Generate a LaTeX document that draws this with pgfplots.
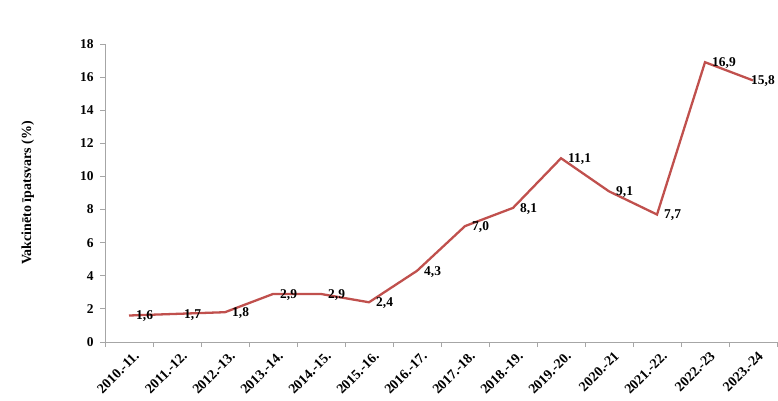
\documentclass[border=0pt]{standalone}
\usepackage{fontspec}
\setmainfont{Liberation Serif}
\usepackage{pgfplots}
\pgfplotsset{compat=1.18}
\definecolor{lred}{HTML}{C0504D}
\definecolor{axgray}{HTML}{A6A6A6}
\begin{document}
\begin{tikzpicture}[x=1bp,y=1bp]
\useasboundingbox (0,0) rectangle (778,400);
\begin{axis}[
  at={(105bp,58bp)}, anchor=south west,
  scale only axis, width=672bp, height=298bp,
  xmin=-0.5, xmax=13.5, ymin=0, ymax=18,
  axis lines*=left,
  axis line style={axgray, line width=0.8pt},
  xtick={0,...,13},
  xticklabels={2010.-11.,2011.-12.,2012.-13.,2013.-14.,2014.-15.,2015.-16.,2016.-17.,2017.-18.,2018.-19.,2019.-20.,2020.-21,2021.-22.,2022.-23,2023.-24},
  major x tick style={draw=none},
  minor xtick={-0.5,0.5,...,13.5},
  minor tick length=5bp,
  ytick={0,2,...,18},
  major tick length=5bp,
  tick align=outside,
  tick style={axgray, line width=0.8pt},
  /pgf/number format/assume math mode=true,
  tick label style={font=\bfseries\fontsize{13.5}{13.5}\selectfont, black},
  y tick label style={xshift=-3bp},
  x tick label style={rotate=45, anchor=north east, xshift=4bp, yshift=-2bp, font=\bfseries\fontsize{14}{14}\selectfont},
  ylabel={Vakcinēto īpatsvars (\%)},
  ylabel style={font=\bfseries\fontsize{14}{14}\selectfont, at={(axis description cs:-0.115,0.5)}, anchor=center},
  clip=false,
]
\addplot[lred, line width=2.3pt, no markers] coordinates {
(0,1.6)(1,1.7)(2,1.8)(3,2.9)(4,2.9)(5,2.4)(6,4.3)(7,7.0)(8,8.1)(9,11.1)(10,9.1)(11,7.7)(12,16.9)(13,15.8)};
\addplot[draw=none, no markers,
  nodes near coords={\pgfmathprintnumber[fixed,fixed zerofill,precision=1,use comma]{\pgfplotspointmeta}},
  every node near coord/.style={anchor=west, xshift=6bp, yshift=-1bp, inner sep=1bp, font=\bfseries\fontsize{13.5}{13.5}\selectfont, black}]
 coordinates {
(0,1.6)(1,1.7)(2,1.8)(3,2.9)(4,2.9)(5,2.4)(6,4.3)(7,7.0)(8,8.1)(9,11.1)(10,9.1)(11,7.7)(12,16.9)};
\addplot[draw=none, no markers,
  nodes near coords={\pgfmathprintnumber[fixed,fixed zerofill,precision=1,use comma]{\pgfplotspointmeta}},
  every node near coord/.style={anchor=west, xshift=-3bp, yshift=-1bp, inner sep=1bp, font=\bfseries\fontsize{13.5}{13.5}\selectfont, black}]
 coordinates {(13,15.8)};
\end{axis}
\end{tikzpicture}
\end{document}
